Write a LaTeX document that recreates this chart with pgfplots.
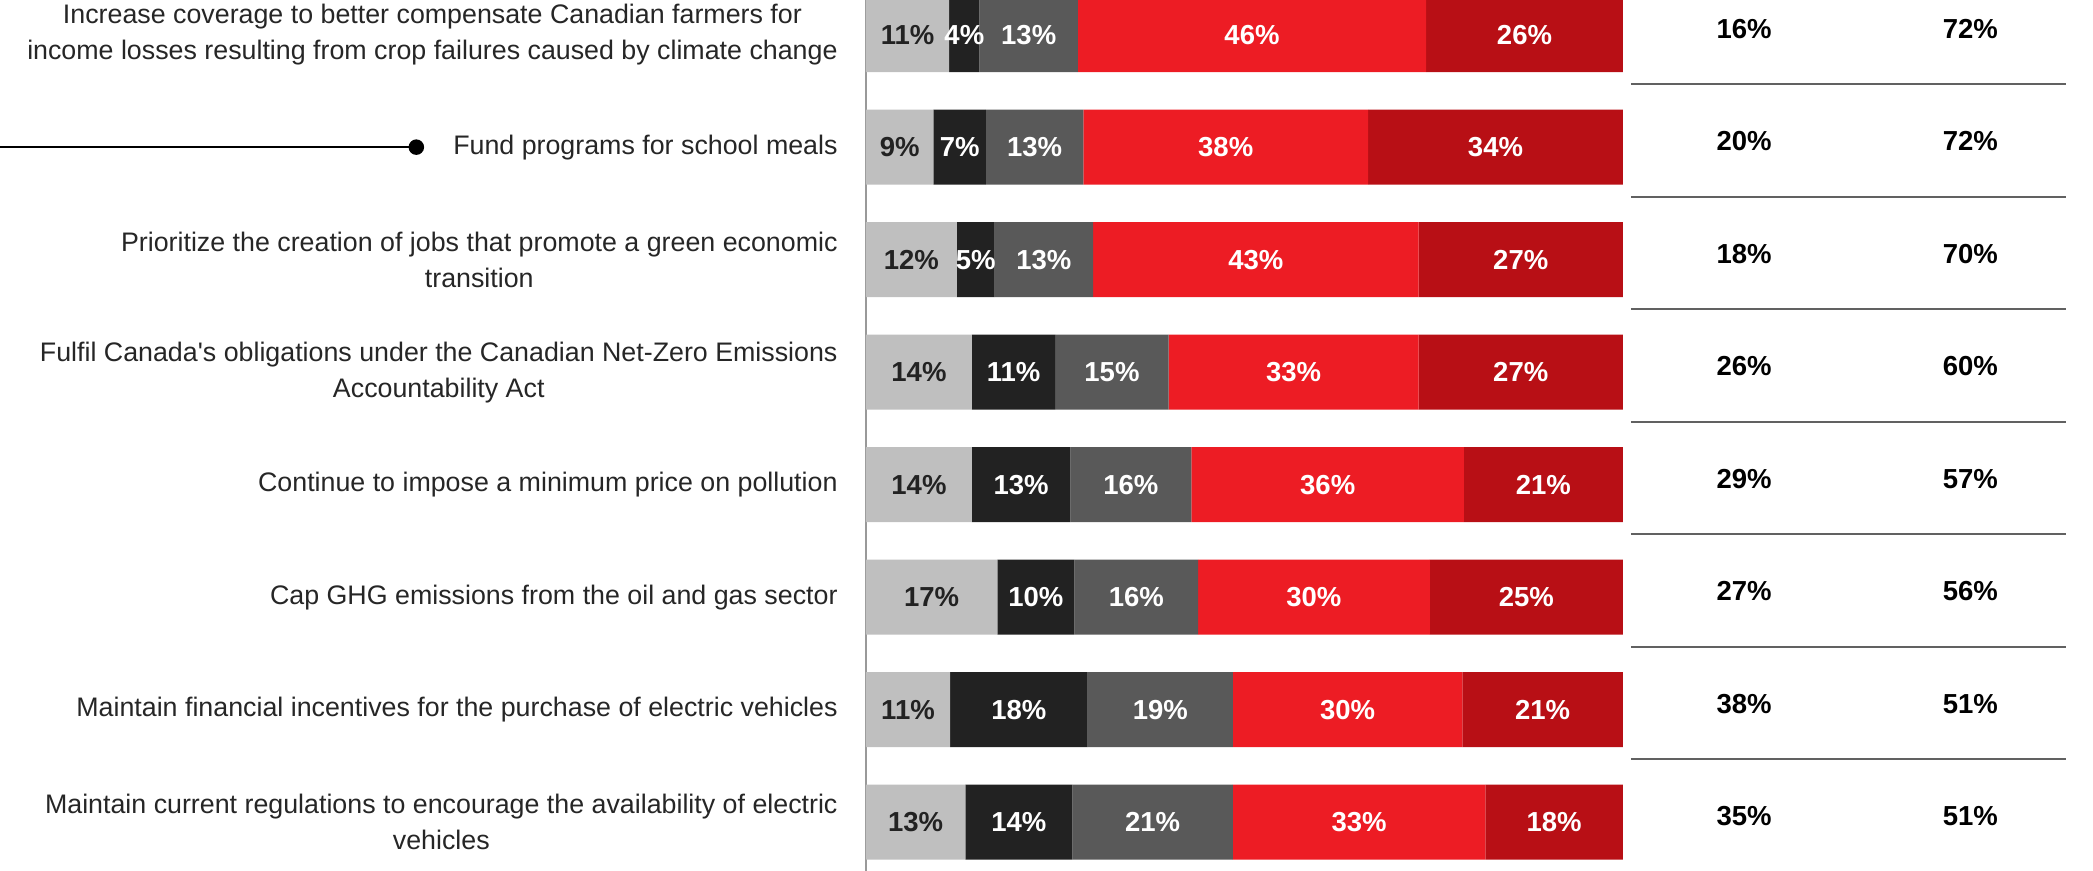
\documentclass[border=0pt]{standalone}
\usepackage{fontspec}
\setmainfont{Liberation Sans}
\usepackage{pgfplots}
\usepackage{pgfplotstable}
\pgfplotsset{compat=1.18}
\definecolor{cLight}{HTML}{BFBFBF}
\definecolor{cBlack}{HTML}{222222}
\definecolor{cMid}{HTML}{595959}
\definecolor{cRed}{HTML}{ED1C24}
\definecolor{cDark}{HTML}{B80F15}
\definecolor{cText}{HTML}{262626}
\pgfplotstableread{
row a b c d e s lo hi
0 11 4 13 46 26 100 16 72
1 9 7 13 38 34 101 20 72
2 12 5 13 43 27 100 18 70
3 14 11 15 33 27 100 26 60
4 14 13 16 36 21 100 29 57
5 17 10 16 30 25 98 27 56
6 11 18 19 30 21 99 38 51
7 13 14 21 33 18 99 35 51
}\data
\begin{document}
\begin{tikzpicture}
\pgfplotsset{base/.style={scale only axis, width=378.5pt, height=435.5pt,
  xmin=0, xmax=100, ymin=-0.308, ymax=7.434, y dir=reverse}}
\begin{axis}[base,
  xbar stacked, bar width=37.5pt,
  axis x line=none, axis y line*=left,
  y axis line style={draw=black!40, line width=0.75pt},
  xtick=\empty, ytick={0,...,7}, major tick length=0pt,
  yticklabels={{Increase coverage to better compensate Canadian farmers for\\income losses resulting from crop failures caused by climate change},
    {Fund programs for school meals},
    {Prioritize the creation of jobs that promote a green economic\\transition},
    {Fulfil Canada\textquotesingle s obligations under the Canadian Net-Zero Emissions\\Accountability Act},
    {Continue to impose a minimum price on pollution},
    {Cap GHG emissions from the oil and gas sector},
    {Maintain financial incentives for the purchase of electric vehicles},
    {Maintain current regulations to encourage the availability of electric\\vehicles}},
  yticklabel style={align=center, anchor=east, inner sep=0pt, xshift=-14pt,
    font=\fontsize{13.4}{18}\selectfont, text=cText},
  nodes near coords={\pgfplotspointmeta\%},
  point meta=explicit symbolic,
  every node near coord/.append style={anchor=center, font=\bfseries\fontsize{13.75}{16}\selectfont, text=white},
]
\addplot[fill=cLight, draw=none, every node near coord/.append style={text=cBlack}] table[x expr=\thisrow{a}*100/\thisrow{s}, y=row, meta=a] {\data};
\addplot[fill=cBlack, draw=none] table[x expr=\thisrow{b}*100/\thisrow{s}, y=row, meta=b] {\data};
\addplot[fill=cMid, draw=none] table[x expr=\thisrow{c}*100/\thisrow{s}, y=row, meta=c] {\data};
\addplot[fill=cRed, draw=none] table[x expr=\thisrow{d}*100/\thisrow{s}, y=row, meta=d] {\data};
\addplot[fill=cDark, draw=none] table[x expr=\thisrow{e}*100/\thisrow{s}, y=row, meta=e] {\data};
\end{axis}
\begin{axis}[base, hide axis, clip=false]
\pgfplotsinvokeforeach{0.44,1.44,2.44,3.44,4.44,5.44,6.44}{
  \addplot[black!62, line width=1pt] coordinates {(101.06,#1) (158.5,#1)};
}
\addplot[draw=none, nodes near coords, point meta=explicit symbolic,
  nodes near coords={\pgfplotspointmeta\%},
  every node near coord/.style={anchor=center, yshift=3pt, font=\bfseries\fontsize{13.75}{16}\selectfont, text=black}]
  table[x expr=116.0, y=row, meta=lo] {\data};
\addplot[draw=none, nodes near coords, point meta=explicit symbolic,
  nodes near coords={\pgfplotspointmeta\%},
  every node near coord/.style={anchor=center, yshift=3pt, font=\bfseries\fontsize{13.75}{16}\selectfont, text=black}]
  table[x expr=145.9, y=row, meta=hi] {\data};
\addplot[black, line width=0.75pt, mark=*, mark indices={2}, mark size=3.5pt, mark options={fill=black}] coordinates {(-114.4,1) (-59.4,1)};
\coordinate (BL) at (axis cs:-114.4,7.434);
\coordinate (TR) at (axis cs:162.1,-0.308);
\end{axis}
\pgfresetboundingbox
\path[use as bounding box] (BL) rectangle (TR);
\end{tikzpicture}
\end{document}
